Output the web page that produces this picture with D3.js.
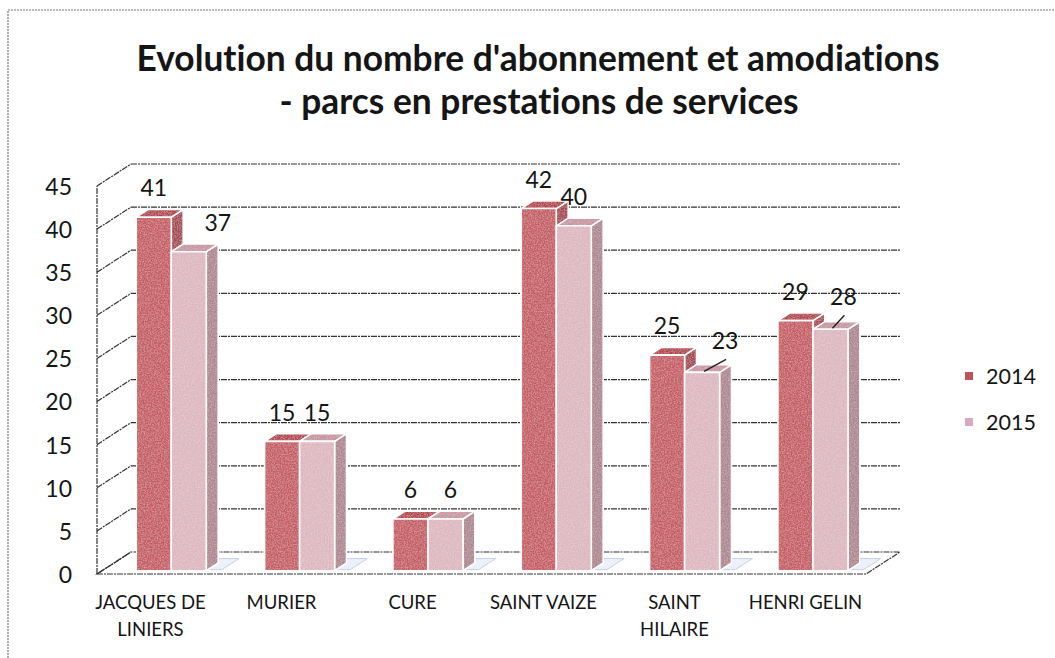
<!DOCTYPE html>
<html><head><meta charset="utf-8">
<script src="https://cdn.jsdelivr.net/npm/d3@7"></script>
<style>body{margin:0;background:#fff} svg{display:block} text{font-variant-ligatures:none;font-feature-settings:"liga" 0,"clig" 0}</style>
</head><body>
<svg id="c" width="1055" height="658"></svg>
<script>
// ---------- data ----------
const categories = ["JACQUES DE LINIERS","MURIER","CURE","SAINT VAIZE","SAINT HILAIRE","HENRI GELIN"];
const categoryLines = [["JACQUES DE","LINIERS"],["MURIER"],["CURE"],["SAINT VAIZE"],["SAINT","HILAIRE"],["HENRI GELIN"]];
const seriesNames = ["2014","2015"];
const values2014 = [41,15,6,42,25,29];
const values2015 = [37,15,6,40,23,28];
const yTicks = [0,5,10,15,20,25,30,35,40,45];
const titleLines = ["Evolution du nombre d'abonnement et amodiations","- parcs en prestations de services"];

// ---------- layout / style ----------
const DX = 34, DY = -22;          // depth vector of the 3D box
const D1 = 0.15, D2 = 0.5;        // bar depth (front, back)
const font = "Lato, 'Open Sans', sans-serif";
const txt = "#151515";
const colors = {
  "2014": {front:"#c65c63", top:"#b2434c", side:"#a4474f"},
  "2015": {front:"#ddb7bf", top:"#c7959f", side:"#ae8690"}
};
const legendColors = {"2014":"#c0505a","2015":"#d8a8c0"};
// label nudges for moved data labels: key series|categoryIndex -> [dx,dy,leader]
const labelNudge = {"2015|0":[29,0,false],"2015|2":[5,0,false],"2015|4":[23,-3,true],"2015|5":[13,-4,true]};

const svg = d3.select("#c");
const defs = svg.append("defs");
const f = defs.append("filter").attr("id","grain").attr("x",0).attr("y",0).attr("width",1).attr("height",1);
f.append("feTurbulence").attr("type","fractalNoise").attr("baseFrequency",0.7).attr("numOctaves",2).attr("seed",4).attr("result","n");
f.append("feColorMatrix").attr("in","n").attr("type","matrix")
  .attr("values","0 0 0 0 1  0 0 0 0 1  0 0 0 0 1  0 0 0 0.5 -0.18").attr("result","w");
f.append("feComposite").attr("in","w").attr("in2","SourceGraphic").attr("operator","in").attr("result","wi");
const fm = f.append("feMerge");
fm.append("feMergeNode").attr("in","SourceGraphic");
fm.append("feMergeNode").attr("in","wi");

// outer border
svg.append("rect").attr("x",8).attr("y",10).attr("width",1100).attr("height",700)
  .attr("fill","none").attr("stroke","#7a7a7a").attr("stroke-width",1.2).attr("stroke-dasharray","2 1");

// scales
const y = d3.scaleLinear().domain([0,45]).range([574,186]);
const floorX = [97, 866];
const x0 = d3.scaleBand().domain(categories).range([102, 872]);
const xs = d3.scaleBand().domain(seriesNames).range([-35, 35]);
const xLab = d3.scaleBand().domain(categories).range([85, 871]);
const P = (x, yy, d) => [x + d*DX, yy + d*DY];

// back wall gridlines
const grid = svg.append("g").attr("stroke","#333").attr("stroke-width",1.2).attr("stroke-dasharray","6 1 2 1").attr("fill","none");
yTicks.filter(t => t > 0).forEach(t => {
  const a = P(floorX[0], y(t), 1), b = P(floorX[1], y(t), 1);
  grid.append("line").attr("x1",a[0]).attr("y1",a[1]).attr("x2",b[0]).attr("y2",b[1]);
});
// side diagonals from axis
yTicks.forEach(t => {
  const a = P(floorX[0], y(t), 0), b = P(floorX[0], y(t), 1);
  grid.append("line").attr("x1",a[0]).attr("y1",a[1]).attr("x2",b[0]).attr("y2",b[1]);
});
// floor
const fl = [P(floorX[0],y(0),0),P(floorX[1],y(0),0),P(floorX[1],y(0),1),P(floorX[0],y(0),1)];
grid.append("polygon").attr("points",fl.map(p=>p.join(",")).join(" "));
// axis vertical line
svg.append("line").attr("x1",floorX[0]).attr("x2",floorX[0]).attr("y1",y(0)).attr("y2",y(45))
  .attr("stroke","#333").attr("stroke-width",1.2).attr("stroke-dasharray","6 1 2 1");

// y tick labels through axis
const yAxis = d3.axisLeft(y).tickValues(yTicks).tickSize(0).tickPadding(0);
const ga = svg.append("g").attr("transform","translate(72,1)").call(yAxis);
ga.select(".domain").remove();
ga.selectAll("text").attr("font-family",font).attr("font-size",23).attr("fill",txt);

// floor shadows
const shadows = svg.append("g");
categories.forEach((c,i) => {
  const cx = x0(c) + x0.bandwidth()/2;
  const xl = cx + xs("2014") + 6, xr = cx + xs("2015") + xs.bandwidth() + 14;
  const pts = [P(xl,y(0),D1+0.05),P(xr,y(0),D1+0.05),P(xr,y(0),D2+0.2),P(xl,y(0),D2+0.2)];
  shadows.append("polygon").attr("points",pts.map(p=>p.join(",")).join(" "))
    .attr("fill","#eef1fa").attr("stroke","#c5cfee").attr("stroke-width",1);
});

// bars
const series = [{name:"2014", vals:values2014},{name:"2015", vals:values2015}];
const bars = svg.append("g").attr("filter","url(#grain)");
categories.forEach((c,i) => {
  series.forEach(s => {
    const v = s.vals[i];
    const cx = x0(c) + x0.bandwidth()/2;
    const xl = cx + xs(s.name), xr = xl + xs.bandwidth();
    const yt = y(v), yb = y(0);
    const col = colors[s.name];
    const poly = (pts, fill) => bars.append("polygon").attr("points",pts.map(p=>p.join(",")).join(" "))
      .attr("fill",fill).attr("stroke","#fff").attr("stroke-width",1.6).attr("stroke-linejoin","round");
    poly([P(xr,yt,D1),P(xr,yt,D2),P(xr,yb,D2),P(xr,yb,D1)], col.side);
    poly([P(xl,yt,D1),P(xr,yt,D1),P(xr,yt,D2),P(xl,yt,D2)], col.top);
    poly([P(xl,yt,D1),P(xr,yt,D1),P(xr,yb,D1),P(xl,yb,D1)], col.front);
  });
});

// data labels
const labels = svg.append("g").attr("font-family",font).attr("font-size",23).attr("fill",txt).attr("text-anchor","middle");
categories.forEach((c,i) => {
  series.forEach(s => {
    const v = s.vals[i];
    const cx = x0(c) + x0.bandwidth()/2 + xs(s.name) + xs.bandwidth()/2;
    const top = P(cx, y(v), D1);
    const n = labelNudge[s.name+"|"+i] || [0,0,false];
    const lx = top[0] + n[0], ly = top[1] - 29 + n[1];
    if (n[2]) {
      svg.append("line").attr("x1",top[0]+2).attr("y1",top[1]-1).attr("x2",lx+1).attr("y2",ly+19)
        .attr("stroke","#222").attr("stroke-width",1.4);
    }
    labels.append("text").attr("x",lx).attr("y",ly).attr("dy","0.36em").text(v);
  });
});

// category labels
const cl = svg.append("g").attr("font-family",font).attr("font-size",18.5).attr("fill",txt).attr("text-anchor","middle");
categories.forEach((c,i) => {
  const t = cl.append("text").attr("x", xLab(c) + xLab.bandwidth()/2).attr("y", 609);
  categoryLines[i].forEach((ln,j) => t.append("tspan").attr("x", xLab(c) + xLab.bandwidth()/2).attr("dy", j ? 27 : 0).text(ln));
});

// legend
const lg = svg.append("g").attr("font-family",font).attr("font-size",21.5).attr("fill",txt);
seriesNames.forEach((s,j) => {
  const yy = 376 + j*46;
  lg.append("rect").attr("x",965).attr("y",yy-4).attr("width",8).attr("height",8).attr("fill",legendColors[s]);
  lg.append("text").attr("x",986).attr("y",yy).attr("dy","0.36em").text(s);
});

// title
const tg = svg.append("g").attr("font-family",font).attr("font-weight",700).attr("fill",txt).attr("text-anchor","middle");
const t1 = tg.append("text").attr("x",538).attr("y",71).attr("font-size",32).text(titleLines[0]);
const w1 = t1.node().getComputedTextLength();
const fs = 32 * 803 / w1;
t1.attr("font-size",fs);
tg.append("text").attr("x",539).attr("y",114).attr("font-size",fs).text(titleLines[1]);
</script>
</body></html>
